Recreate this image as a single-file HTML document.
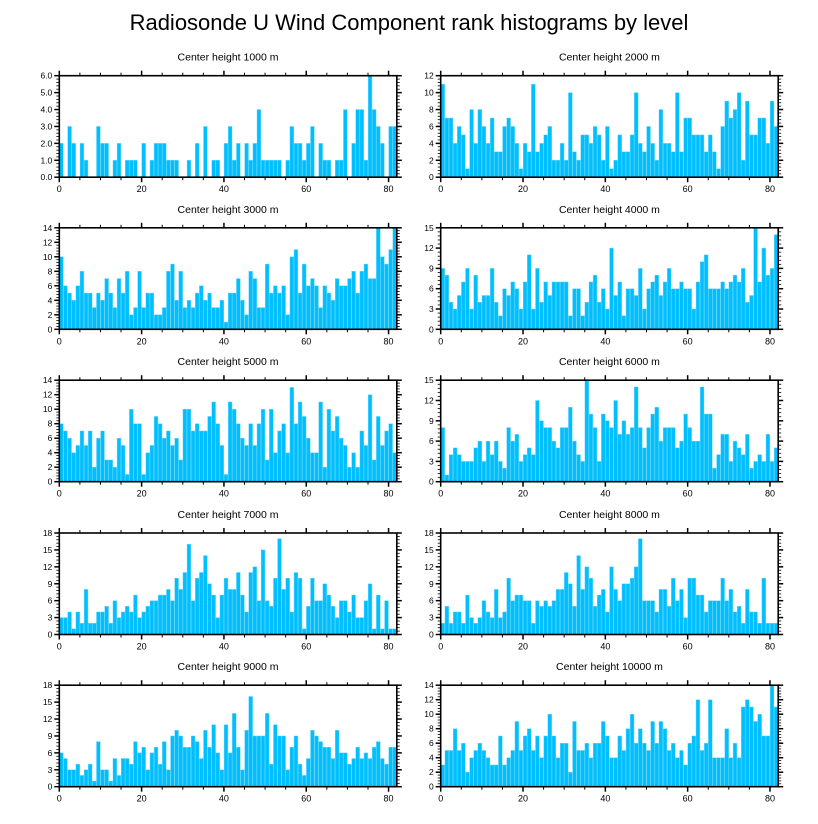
<!DOCTYPE html>
<html><head><meta charset="utf-8">
<style>
html,body{margin:0;padding:0;background:#fff;}
svg{display:block;font-family:"Liberation Sans",Arial,sans-serif;}
</style></head>
<body>
<svg id="chart" width="818" height="824" viewBox="0 0 818 824">
<text x="409" y="30" text-anchor="middle" font-size="22" fill="#000">Radiosonde U Wind Component rank histograms by level</text>
</svg>
<script>
const panelTitles = ["Center height 1000 m","Center height 2000 m","Center height 3000 m","Center height 4000 m","Center height 5000 m","Center height 6000 m","Center height 7000 m","Center height 8000 m","Center height 9000 m","Center height 10000 m"];
const yMaxes = [6,12,14,15,14,15,18,18,18,14];
const yTickSteps = [1,2,2,3,2,3,3,3,3,2];
const xTickLabels = [0,20,40,60,80];
const counts1000 = [2,0,3,2,0,2,1,0,0,3,2,2,0,1,2,0,1,1,1,0,2,0,1,2,2,2,1,1,1,0,0,1,0,2,0,3,0,1,1,0,2,3,1,2,0,2,1,2,4,1,1,1,1,1,0,1,3,2,2,1,2,3,0,2,1,1,0,1,1,4,0,2,4,4,1,6,4,3,2,0,3,3];
const counts2000 = [11,7,7,4,6,5,1,8,4,8,6,4,7,3,3,6,7,6,4,1,4,3,11,3,4,5,6,2,2,4,2,10,3,2,5,5,4,6,5,2,6,1,2,5,3,3,5,10,4,3,6,4,2,8,4,4,3,10,3,7,7,5,5,5,3,5,3,1,6,9,7,8,10,2,9,5,5,7,7,4,9,6];
const counts3000 = [10,6,5,4,6,8,5,5,3,5,4,7,5,3,7,5,8,2,3,8,3,5,5,2,2,3,8,9,4,8,3,4,3,5,6,4,5,3,3,4,1,5,5,7,4,2,8,7,3,3,9,5,6,5,6,2,10,11,5,9,6,7,6,3,6,5,4,7,6,6,7,8,5,8,9,7,7,14,10,9,11,14];
const counts4000 = [9,8,4,3,5,7,9,3,8,4,5,5,9,4,2,6,5,7,6,3,7,11,3,9,4,7,5,7,7,7,7,2,6,6,2,4,7,8,4,6,3,12,5,7,2,6,6,5,9,3,6,7,8,5,7,9,6,6,7,6,6,3,7,10,11,6,6,6,7,6,7,8,7,9,4,5,15,7,12,8,9,14];
const counts5000 = [8,7,6,4,5,7,5,7,2,6,7,3,3,2,6,5,1,10,8,8,1,4,5,9,8,6,7,5,6,3,10,10,7,8,7,7,9,11,8,5,1,11,10,8,6,5,8,5,8,10,3,10,4,7,8,4,13,8,11,9,6,4,4,11,2,10,7,9,6,5,2,4,2,7,5,12,3,9,5,7,8,4];
const counts6000 = [8,1,4,5,4,3,3,3,5,6,3,6,4,6,3,2,8,6,7,3,4,5,4,12,9,8,8,6,5,8,8,11,6,4,3,15,10,8,3,10,9,8,12,7,9,7,8,14,8,5,8,10,11,6,8,8,8,5,6,10,8,6,6,14,10,10,2,4,7,7,3,6,5,4,7,2,3,4,3,7,3,5];
const counts7000 = [3,3,4,1,4,2,8,2,2,4,4,5,2,6,3,4,5,4,7,3,4,5,6,6,7,7,8,6,10,8,11,16,6,10,11,14,9,7,3,7,10,8,8,11,7,4,11,12,6,15,6,5,10,17,8,10,4,11,10,1,5,10,6,6,9,7,5,3,6,6,4,7,3,3,6,9,1,7,1,6,1,1];
const counts8000 = [2,5,2,4,4,2,7,3,2,3,6,4,3,8,3,4,10,6,7,7,6,6,2,6,5,6,5,6,8,8,11,9,5,14,8,12,10,5,7,8,4,12,8,6,9,9,10,12,17,6,6,6,4,8,8,5,10,6,8,3,10,10,7,7,4,6,6,6,10,6,8,4,5,2,8,4,4,2,10,2,2,2];
const counts9000 = [6,5,3,3,4,2,3,4,1,8,3,3,1,5,2,5,5,4,8,6,7,3,6,7,4,8,3,9,10,9,7,7,9,8,5,10,7,11,6,3,11,6,13,7,3,10,16,9,9,9,13,4,11,9,9,3,7,9,4,2,5,10,9,8,7,7,5,10,6,6,4,5,7,5,6,5,7,8,5,4,7,7];
const counts10000 = [3,5,5,8,5,6,2,4,5,6,5,4,3,3,7,3,4,5,9,5,7,8,5,7,4,7,10,7,4,6,6,2,9,5,5,6,4,6,6,9,7,4,4,7,5,8,10,6,8,6,5,9,6,9,8,5,6,4,5,3,6,7,12,5,6,12,4,4,4,8,4,6,4,11,12,11,9,10,7,7,14,11];
const allCounts = [counts1000,counts2000,counts3000,counts4000,counts5000,counts6000,counts7000,counts8000,counts9000,counts10000];

const NS = "http://www.w3.org/2000/svg";
const svg = document.getElementById('chart');
function mk(tag, attrs, parent){ const e=document.createElementNS(NS,tag); for(const k in attrs) e.setAttribute(k,attrs[k]); (parent||svg).appendChild(e); return e; }

const colsX = [59.3, 440.7];
const plotW = 337.5, plotH = 101.5;
const rowsY = [75.7, 227.8, 380.2, 533, 685.2];
const xMax = 82;

allCounts.forEach((vals, p) => {
  const col = p % 2, row = Math.floor(p / 2);
  const x0 = colsX[col], y0 = rowsY[row];
  const yMax = yMaxes[p], step = yTickSteps[p];
  const xs = v => x0 + v / xMax * plotW;
  const ys = v => y0 + plotH - v / yMax * plotH;
  const g = mk('g', {});
  
  
  const t = mk('text', {x: x0 + plotW/2, y: y0 - 15, 'text-anchor':'middle', 'font-size':'10.5', fill:'#000'}, g);
  t.textContent = panelTitles[p];
  
  
  vals.forEach((v, i) => {
    if (v <= 0) return;
    const b = mk('rect', {x: xs(i)+0.15, y: ys(v), width: plotW/xMax - 0.3, height: ys(0) - ys(v), fill:'#00BFFF', stroke:'#6fd6ff', 'stroke-width':'0.4'}, g);
    
    
  });
  const fr = mk('rect', {x: x0, y: y0, width: plotW, height: plotH, fill:'none', stroke:'#000', 'stroke-width':'1.6'}, g);
  
  
  for (let v = 0; v <= xMax; v += 5) {
    const major = v % 20 === 0;
    const L = major ? 5 : 3;
    mk('line', {x1: xs(v), x2: xs(v), y1: y0 + plotH, y2: y0 + plotH + L, stroke:'#000', 'stroke-width': major?1.5:1}, g);
    mk('line', {x1: xs(v), x2: xs(v), y1: y0, y2: y0 - L, stroke:'#000', 'stroke-width': major?1.5:1}, g);
  }
  xTickLabels.forEach(v => {
    const tl = mk('text', {x: xs(v), y: y0 + plotH + 15, 'text-anchor':'middle', 'font-size':'9', fill:'#000'}, g);
    tl.textContent = v;
    
    
  });
  const minor = step / 5;
  for (let k = 0; k * minor <= yMax + 1e-9; k++) {
    const v = k * minor;
    const major = k % 5 === 0;
    const L = major ? 5 : 3;
    mk('line', {x1: x0, x2: x0 - L, y1: ys(v), y2: ys(v), stroke:'#000', 'stroke-width': major?1.5:0.8}, g);
    mk('line', {x1: x0 + plotW, x2: x0 + plotW + L, y1: ys(v), y2: ys(v), stroke:'#000', 'stroke-width': major?1.5:0.8}, g);
  }
  for (let v = 0; v <= yMax + 1e-9; v += step) {
    const tl = mk('text', {x: x0 - 7, y: ys(v) + 3, 'text-anchor':'end', 'font-size':'8.5', fill:'#000'}, g);
    tl.textContent = yMax === 6 ? v.toFixed(1) : v;
    
    
  }
});
</script>
</body></html>
